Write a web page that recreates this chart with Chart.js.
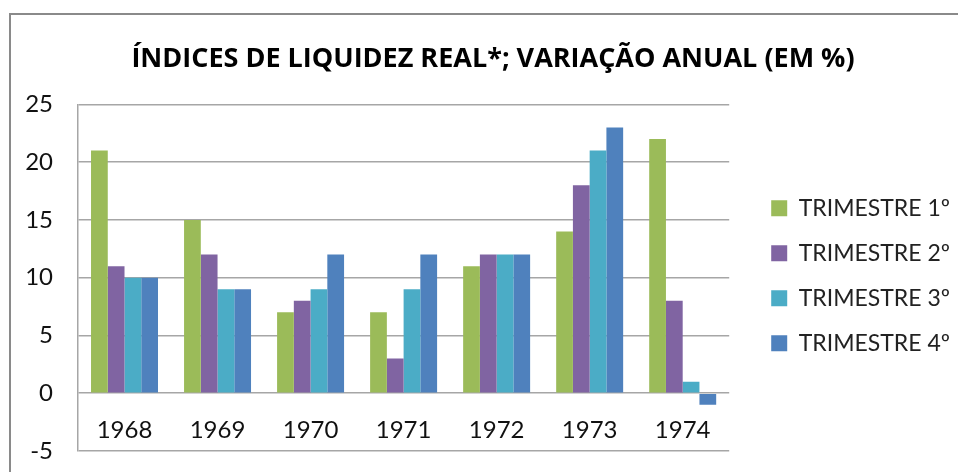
<!DOCTYPE html>
<html>
<head>
<meta charset="utf-8">
<script src="https://cdn.jsdelivr.net/npm/chart.js@4/dist/chart.umd.min.js"></script>
<style>
  html, body { margin: 0; padding: 0; background: #fff; }
  #wrap { position: relative; width: 958px; height: 472px; }
  #chart1 { display: block; }
  #frame { position: absolute; left: 9px; top: 13px; right: -20px; bottom: -20px;
           border-top: 2px solid #8a8a8a; border-left: 2px solid #8a8a8a; pointer-events: none; }
</style>
</head>
<body>
<div id="wrap">
  <canvas id="chart1" width="958" height="472"></canvas>
  <div id="frame"></div>
</div>
<script>
var ctx1 = document.getElementById('chart1').getContext('2d');

var years = ['1968', '1969', '1970', '1971', '1972', '1973', '1974'];

var trim1 = [21, 15, 7, 7, 11, 14, 22];
var trim2 = [11, 12, 8, 3, 12, 18, 8];
var trim3 = [10, 9, 9, 9, 12, 21, 1];
var trim4 = [10, 9, 12, 12, 12, 23, -1];

var seriesNames = ['TRIMESTRE 1º', 'TRIMESTRE 2º', 'TRIMESTRE 3º', 'TRIMESTRE 4º'];
var seriesColors = ['#9bbb59', '#8064a2', '#4bacc6', '#4f81bd'];

var yTicks = { min: -5, max: 25, step: 5 };

var fontFamily = 'Lato, "Open Sans", sans-serif';
var gridColor = '#a6a6a6';

var makeSet = function (i, values) {
    return {
        label: seriesNames[i],
        data: values,
        backgroundColor: seriesColors[i],
        borderColor: seriesColors[i],
        borderWidth: 0,
        categoryPercentage: 0.72,
        barPercentage: 1.0
    };
};

// nudge title and legend to where the original has them
var placeBlocks = {
    id: 'placeBlocks',
    afterLayout: function (chart) {
        var lg = chart.legend;
        if (lg) {
            lg.left += 20;
            lg.right += 20;
            lg.top = chart.chartArea.top - 2;
            lg.bottom = chart.chartArea.bottom - 2;
        }
        var tb = chart.titleBlock;
        if (tb) {
            tb.left += 10;
            tb.right += 10;
        }
    }
};

new Chart(ctx1, {
    type: 'bar',
    data: {
        labels: years,
        datasets: [
            makeSet(0, trim1),
            makeSet(1, trim2),
            makeSet(2, trim3),
            makeSet(3, trim4)
        ]
    },
    plugins: [placeBlocks],
    options: {
        responsive: false,
        animation: false,
        layout: { padding: { left: 26, right: 18, top: 0, bottom: 21 } },
        plugins: {
            title: {
                display: true,
                text: 'ÍNDICES DE LIQUIDEZ REAL*; VARIAÇÃO ANUAL (EM %)',
                color: '#000',
                font: { family: '"Open Sans", Lato, sans-serif', size: 27, weight: 'bold' },
                padding: { top: 43, bottom: 29 }
            },
            legend: {
                position: 'right',
                labels: {
                    color: '#222',
                    boxWidth: 16,
                    boxHeight: 16,
                    padding: 22,
                    font: { family: fontFamily, size: 23 }
                }
            },
            tooltip: { enabled: false }
        },
        scales: {
            x: {
                position: { y: 0 },
                grid: { display: false, drawTicks: false },
                border: { display: false },
                ticks: {
                    color: '#111',
                    padding: 23,
                    font: { family: fontFamily, size: 24 }
                },
                afterFit: function (scale) { scale.height = 0; }
            },
            y: {
                min: yTicks.min,
                max: yTicks.max,
                ticks: {
                    stepSize: yTicks.step,
                    color: '#111',
                    padding: 5,
                    font: { family: fontFamily, size: 24 }
                },
                grid: { color: gridColor, lineWidth: 1.5, drawTicks: true, tickLength: 20, tickColor: 'rgba(0,0,0,0)' },
                border: { display: true, color: gridColor, width: 1.5 },
                afterFit: function (scale) { scale.width = 52; }
            }
        }
    }
});
</script>
</body>
</html>
